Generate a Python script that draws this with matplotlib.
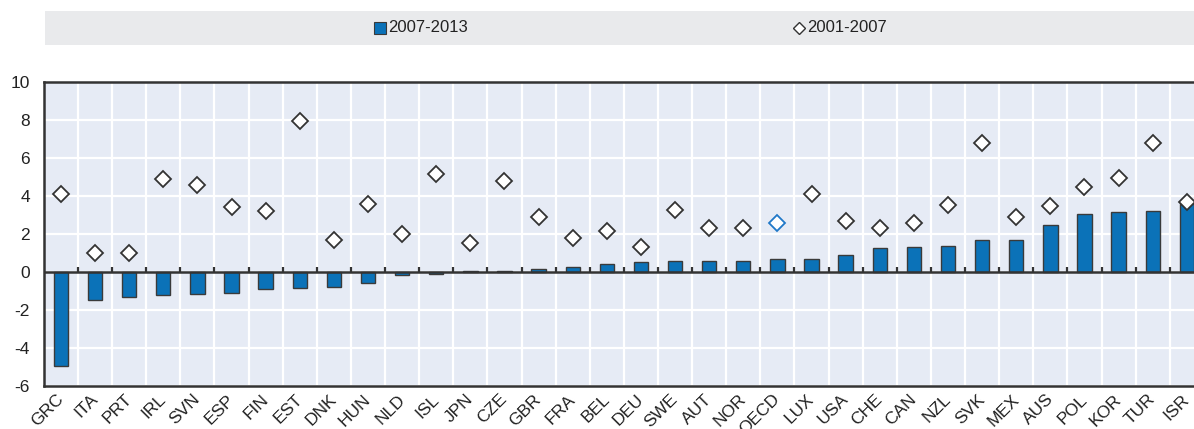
import matplotlib.pyplot as plt
import matplotlib.transforms as mtransforms
from matplotlib.lines import Line2D
from matplotlib.patches import Rectangle
import numpy as np

plt.rcParams['font.family'] = ['Liberation Sans', 'DejaVu Sans']

countries = ["GRC", "ITA", "PRT", "IRL", "SVN", "ESP", "FIN", "EST", "DNK", "HUN",
             "NLD", "ISL", "JPN", "CZE", "GBR", "FRA", "BEL", "DEU", "SWE", "AUT",
             "NOR", "OECD", "LUX", "USA", "CHE", "CAN", "NZL", "SVK", "MEX", "AUS",
             "POL", "KOR", "TUR", "ISR"]
# 2007-2013 (bars)
v0713 = [-4.93, -1.47, -1.31, -1.2, -1.16, -1.12, -0.9, -0.86, -0.78, -0.6,
         -0.18, -0.1, 0.03, 0.05, 0.15, 0.27, 0.42, 0.51, 0.57, 0.57,
         0.6, 0.7, 0.71, 0.88, 1.27, 1.29, 1.35, 1.7, 1.7, 2.45,
         3.05, 3.14, 3.2, 3.6]
# 2001-2007 (diamonds)
v0107 = [4.12, 1.0, 1.0, 4.89, 4.56, 3.43, 3.22, 7.96, 1.71, 3.59,
         1.99, 5.16, 1.55, 4.81, 2.9, 1.78, 2.18, 1.3, 3.24, 2.31,
         2.29, 2.59, 4.12, 2.66, 2.32, 2.59, 3.52, 6.8, 2.9, 3.45,
         4.47, 4.95, 6.8, 3.71]

blue = "#0b72b8"
edge = "#3a3a3a"
bg = "#e6ebf5"

fig = plt.figure(figsize=(11.94, 4.29), dpi=100)
ax = fig.add_axes([43.9/1194, 1-386/429, 1160/1194, 304/429])
ax.set_facecolor(bg)

x = np.arange(len(countries))
ax.bar(x, v0713, width=0.42, color=blue, edgecolor=edge, linewidth=1.0, zorder=3)

cols = ["#1f78c8" if c == "OECD" else "#333333" for c in countries]
for xi, yi, c in zip(x, v0107, cols):
    ax.plot(xi, yi, "D", ms=8, mfc="white", mec=c, mew=1.3, zorder=4, clip_on=False)

ax.set_xlim(-0.5, len(countries) - 0.5)
ax.set_ylim(-6, 10)
ax.set_yticks(range(-6, 11, 2))
ax.set_yticklabels([str(v) for v in range(-6, 11, 2)])

# grid: horizontal at ticks, vertical between categories
ax.set_xticks(x + 0.5, minor=True)
ax.grid(True, axis="y", color="white", linewidth=1.6, zorder=1)
ax.grid(True, axis="x", which="minor", color="white", linewidth=1.6, zorder=1)
ax.set_axisbelow(True)

ax.set_xticks(x)
ax.set_xticklabels(countries, rotation=45, ha="right", va="top", rotation_mode="anchor")
ax.tick_params(axis="x", which="both", length=0, labelsize=12.5, colors="#222222", pad=4)
ax.tick_params(axis="y", length=0, labelsize=12.5, colors="#222222", pad=10)
shift = mtransforms.ScaledTranslation(-5/100, 0, fig.dpi_scale_trans)
for lab in ax.get_xticklabels():
    lab.set_transform(lab.get_transform() + shift)

ax.axhline(0, color="#333333", linewidth=1.8, zorder=3)
ax.vlines(x[:-1] + 0.5, 0, 0.28, color="#333333", linewidth=1.6, zorder=3)

for s in ["left", "bottom", "top"]:
    ax.spines[s].set_color("#333333")
    ax.spines[s].set_linewidth(1.8)
ax.spines["right"].set_visible(False)

# legend band
fig.add_artist(Rectangle((45/1194, 1-45/429), 1 - 45/1194, 34/429,
                         transform=fig.transFigure, facecolor="#e9eaec",
                         edgecolor="none", zorder=0))
fig.add_artist(Line2D([380/1194], [1-28/429], marker="s", ms=8, mfc=blue, mec=edge,
                      mew=0.8, transform=fig.transFigure, linestyle="none"))
fig.text(388/1194, 1-28/429, "2007-2013", fontsize=12, va="center", ha="left", color="#222222")
fig.add_artist(Line2D([799/1194], [1-28/429], marker="D", ms=6, mfc="white", mec="#333333",
                      mew=1.0, transform=fig.transFigure, linestyle="none"))
fig.text(807/1194, 1-28/429, "2001-2007", fontsize=12, va="center", ha="left", color="#222222")

fig.savefig("out.png", dpi=100)
